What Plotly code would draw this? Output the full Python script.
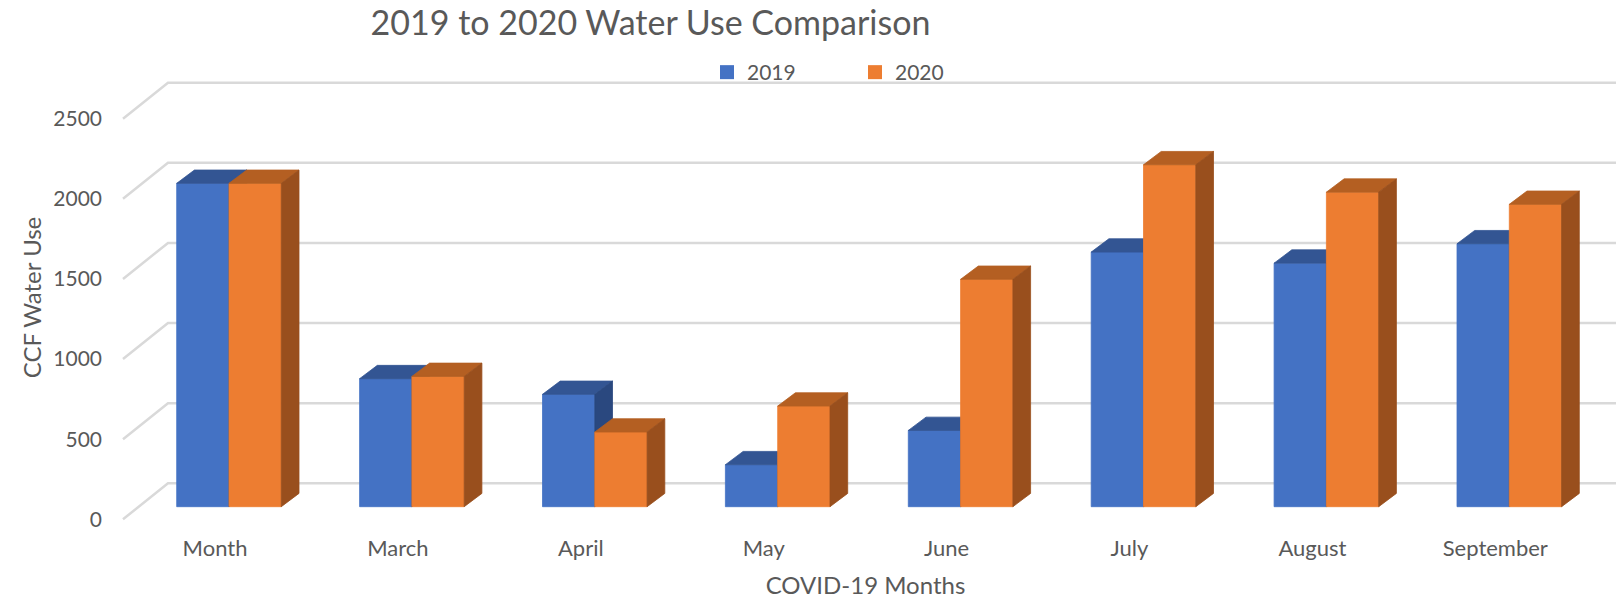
import plotly.graph_objects as go

# ---- data ----
categories = ["Month", "March", "April", "May", "June", "July", "August", "September"]
water_2019 = [2018, 799, 701, 262, 476, 1589, 1520, 1641]
water_2020 = [2018, 813, 466, 628, 1419, 2134, 1963, 1887]
y_ticks = [0, 500, 1000, 1500, 2000, 2500]
series_names = ["2019", "2020"]

# ---- style / geometry (3D look) ----
PX_PER_CAT = 182.9
PX_PER_VAL = 0.16024
BAR_W = 52.3 / PX_PER_CAT
DX = 17.7 / PX_PER_CAT          # depth offset in x (category units)
DY = 13.3 / PX_PER_VAL          # depth offset in y (value units)
BACK_DY = 23.4 / PX_PER_VAL     # back wall shift
FRONT_DY = -12.6 / PX_PER_VAL   # front plane shift
BACK_X = (168 - 229) / PX_PER_CAT
FRONT_X = (123 - 229) / PX_PER_CAT
X_RANGE = [(115 - 229) / PX_PER_CAT, (1616 - 229) / PX_PER_CAT]
Y_RANGE = [(506.7 - 525) / PX_PER_VAL, (506.7 - 70) / PX_PER_VAL]
LABEL_SHIFT = -14 / PX_PER_CAT

COL = {
    "2019": {"front": "#4472C4", "top": "#335593", "side": "#2A487F"},
    "2020": {"front": "#ED7D31", "top": "#B45F22", "side": "#994F1D"},
}
FONT = "Lato"
TXT = "#595959"
GRID = "#D9D9D9"

fig = go.Figure()

# gridlines: slanted side wall + back wall
gx, gy = [], []
for v in y_ticks:
    gx += [FRONT_X, BACK_X, X_RANGE[1], None]
    gy += [v + FRONT_DY, v + BACK_DY, v + BACK_DY, None]
fig.add_trace(go.Scatter(x=gx, y=gy, mode="lines", line=dict(color=GRID, width=2.5),
                         hoverinfo="skip", showlegend=False))


def add_face(xs, ys, color):
    fig.add_trace(go.Scatter(x=xs, y=ys, mode="lines", fill="toself", fillcolor=color,
                             line=dict(color=color, width=0.8), hoverinfo="skip",
                             showlegend=False))


for name, vals, off in [("2019", water_2019, -BAR_W), ("2020", water_2020, 0.0)]:
    fx, fy, tx, ty, sx, sy = [], [], [], [], [], []
    for i, h in enumerate(vals):
        x0 = i + off
        x1 = x0 + BAR_W
        fx += [x0, x1, x1, x0, x0, None]
        fy += [0, 0, h, h, 0, None]
        tx += [x0, x1, x1 + DX, x0 + DX, x0, None]
        ty += [h, h, h + DY, h + DY, h, None]
        sx += [x1, x1 + DX, x1 + DX, x1, x1, None]
        sy += [0, DY, h + DY, h, 0, None]
    add_face(fx, fy, COL[name]["front"])
    add_face(tx, ty, COL[name]["top"])
    add_face(sx, sy, COL[name]["side"])

# legend entries
for name in series_names:
    fig.add_trace(go.Scatter(x=[None], y=[None], mode="markers", name=name,
                             marker=dict(symbol="square", size=14, color=COL[name]["front"])))

fig.update_layout(
    width=1616, height=599,
    margin=dict(l=115, r=0, t=70, b=74, autoexpand=False),
    paper_bgcolor="white", plot_bgcolor="white",
    font=dict(family=FONT, color=TXT),
    title=dict(text="2019 to 2020 Water Use Comparison", x=650.5 / 1616, xref="container",
               xanchor="center", y=1 - 23 / 599, yref="container", yanchor="middle",
               font=dict(size=34, color=TXT, family=FONT)),
    showlegend=True,
    legend=dict(orientation="h", xref="container", yref="container",
                x=707 / 1616, xanchor="left", y=1 - 72.5 / 599, yanchor="middle",
                font=dict(size=21, color=TXT), itemwidth=30,
                entrywidth=103, entrywidthmode="pixels", bgcolor="rgba(0,0,0,0)"),
    xaxis=dict(range=X_RANGE, showgrid=False, zeroline=False, showline=False,
               tickmode="array", tickvals=[i + LABEL_SHIFT for i in range(len(categories))],
               ticktext=categories, ticks="", ticklabelstandoff=8,
               tickfont=dict(size=22, color=TXT, family=FONT),
               title=dict(text="COVID-19 Months", font=dict(size=24, color=TXT, family=FONT),
                          standoff=20),
               fixedrange=True),
    yaxis=dict(range=Y_RANGE, showgrid=False, zeroline=False, showline=False,
               tickmode="array", tickvals=[v + FRONT_DY for v in y_ticks],
               ticktext=[str(v) for v in y_ticks], ticks="", ticklabelstandoff=12,
               tickfont=dict(size=21, color=TXT, family=FONT),
               title=dict(text="CCF Water Use", font=dict(size=24, color=TXT, family=FONT),
                          standoff=4),
               fixedrange=True),
)

fig.write_html("out.html", config={"displayModeBar": False},
               post_script="document.body.style.margin='0';")
